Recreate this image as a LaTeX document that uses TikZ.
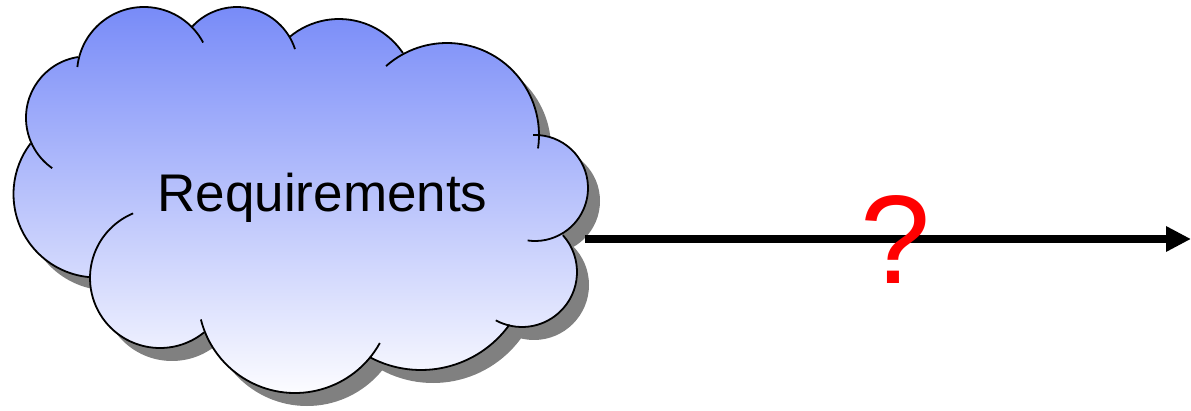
\documentclass[tikz,border=0pt]{standalone}
\usepackage{fontspec}
\setmainfont{Liberation Sans}
\usetikzlibrary{arrows.meta}
\definecolor{cloudtop}{RGB}{120,139,248}
\definecolor{cloudbottom}{RGB}{252,252,255}
\definecolor{cloudshadow}{RGB}{128,128,128}

% lobes of the cloud: centre x/centre y/radius/start angle/end angle
\def\lobes{87.5/117.8/61.5/99/235, 144/74/67/174/28, 237/68/61/138/18,
  339/96/77/130/34, 447/135/92/131.5/-8.4, 535/188/53/92/-98,
  522/272/55/42/-118.5, 421/261/109/-35.7/-117.7, 295/296/97/-29/-166,
  160/278/70/-51/-247.4, 97/194/83.5/265.2/142.7}
\newcommand{\cloudarea}{\foreach \lx/\ly/\lr/\la/\lb in \lobes {(\lx,-\ly) circle[radius=\lr]}
  (97,-194) -- (160,-278) -- (295,-296) -- (421,-261) -- (522,-272) -- (535,-188)
  -- (447,-135) -- (339,-96) -- (237,-68) -- (144,-74) -- (87.5,-117.8) -- cycle}

\begin{document}
\begin{tikzpicture}[x=1pt,y=1pt,
    lobe/.style={draw=black,line width=1.8pt},
    reqtext/.style={font=\fontsize{53}{60}\selectfont},
    qmark/.style={text=red,font=\fontsize{126}{140}\selectfont}]
  \useasboundingbox (0,0) rectangle (1191,-411);
  % shadow and body of the cloud
  \fill[cloudshadow,shift={(12,-13)}] \cloudarea;
  \shade[top color=cloudtop,bottom color=cloudbottom] \cloudarea;
  \foreach \lx/\ly/\lr/\la/\lb in \lobes
    \draw[lobe] (\lx,-\ly) ++(\la:\lr) arc[start angle=\la,end angle=\lb,radius=\lr];
  \node[reqtext,anchor=base] (req) at (322.5,-212) {Requirements};
  % the way out
  \coordinate (cloudout) at (585,-239);
  \coordinate (arrowend) at (1191,-239);
  \draw[-{Triangle[length=25pt,width=24pt]},line width=8pt] (cloudout) -- (arrowend);
  \node[qmark,anchor=base] (ask) at (896,-284) {?};
\end{tikzpicture}
\end{document}
